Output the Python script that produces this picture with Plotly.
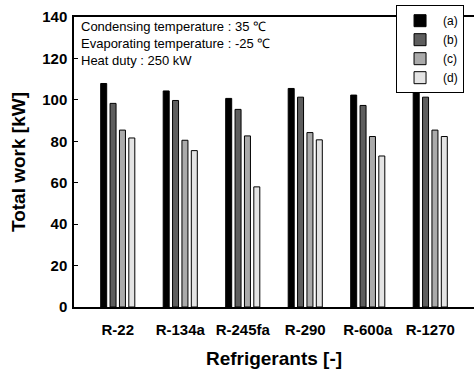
import plotly.graph_objects as go

categories = ["R-22", "R-134a", "R-245fa", "R-290", "R-600a", "R-1270"]
series_names = ["(a)", "(b)", "(c)", "(d)"]
values_a = [107.9, 104.3, 100.7, 105.5, 102.3, 105.2]
values_b = [98.3, 99.7, 95.4, 101.3, 97.3, 101.3]
values_c = [85.4, 80.5, 82.6, 84.2, 82.3, 85.4]
values_d = [81.6, 75.5, 58.0, 80.7, 72.9, 82.3]
y_ticks = [0, 20, 40, 60, 80, 100, 120, 140]
notes = ["Condensing temperature : 35 ℃", "Evaporating temperature : -25 ℃", "Heat duty : 250 kW"]

colors = ["#000000", "#5e5e5e", "#aaaaaa", "#e4e4e4"]
all_values = [values_a, values_b, values_c, values_d]

fig = go.Figure()
for name, vals, col in zip(series_names, all_values, colors):
    fig.add_trace(go.Bar(x=categories, y=vals, name=name,
                         marker=dict(color=col, line=dict(color="black", width=1))))

font_family = "Liberation Sans, Arial, sans-serif"
fig.update_layout(
    width=474, height=370,
    margin=dict(l=74, r=0, t=17, b=63, autoexpand=False),
    paper_bgcolor="white", plot_bgcolor="white",
    barmode="group", bargap=0.4, bargroupgap=0.36,
    font=dict(family=font_family, size=12, color="black"),
    showlegend=True,
    legend=dict(xref="container", yref="container", x=0.979, xanchor="right", y=0.986, yanchor="top",
                bgcolor="white", bordercolor="black", borderwidth=1,
                font=dict(size=12), tracegroupgap=0, itemwidth=36),
)
fig.update_xaxes(range=[-0.7, 5.7], showline=True, linecolor="black", linewidth=1.5,
                 mirror=True, ticks="", automargin=False, ticklabelstandoff=8,
                 tickfont=dict(size=15, family=font_family, weight="bold"),
                 title=dict(text="<b>Refrigerants [-]</b>", font=dict(size=19), standoff=15))
fig.update_yaxes(range=[0, 140], tickvals=y_ticks, showline=True, linecolor="black", linewidth=1.5,
                 mirror=True, ticks="inside", ticklen=4, tickcolor="black", showgrid=False,
                 zeroline=False, automargin=False, ticklabelstandoff=2,
                 tickfont=dict(size=15, family=font_family, weight="bold"),
                 title=dict(text="<b>Total work [kW]</b>", font=dict(size=19), standoff=12))

for i, t in enumerate(notes):
    fig.add_annotation(text=t, xref="paper", yref="paper", x=0.012, y=(307 - 27 - 16.7 * i) / 290,
                       xanchor="left", yanchor="middle", showarrow=False,
                       font=dict(size=13))

fig.write_html("out.html", config={"displayModeBar": False},
               post_script="document.body.style.margin='0';")
